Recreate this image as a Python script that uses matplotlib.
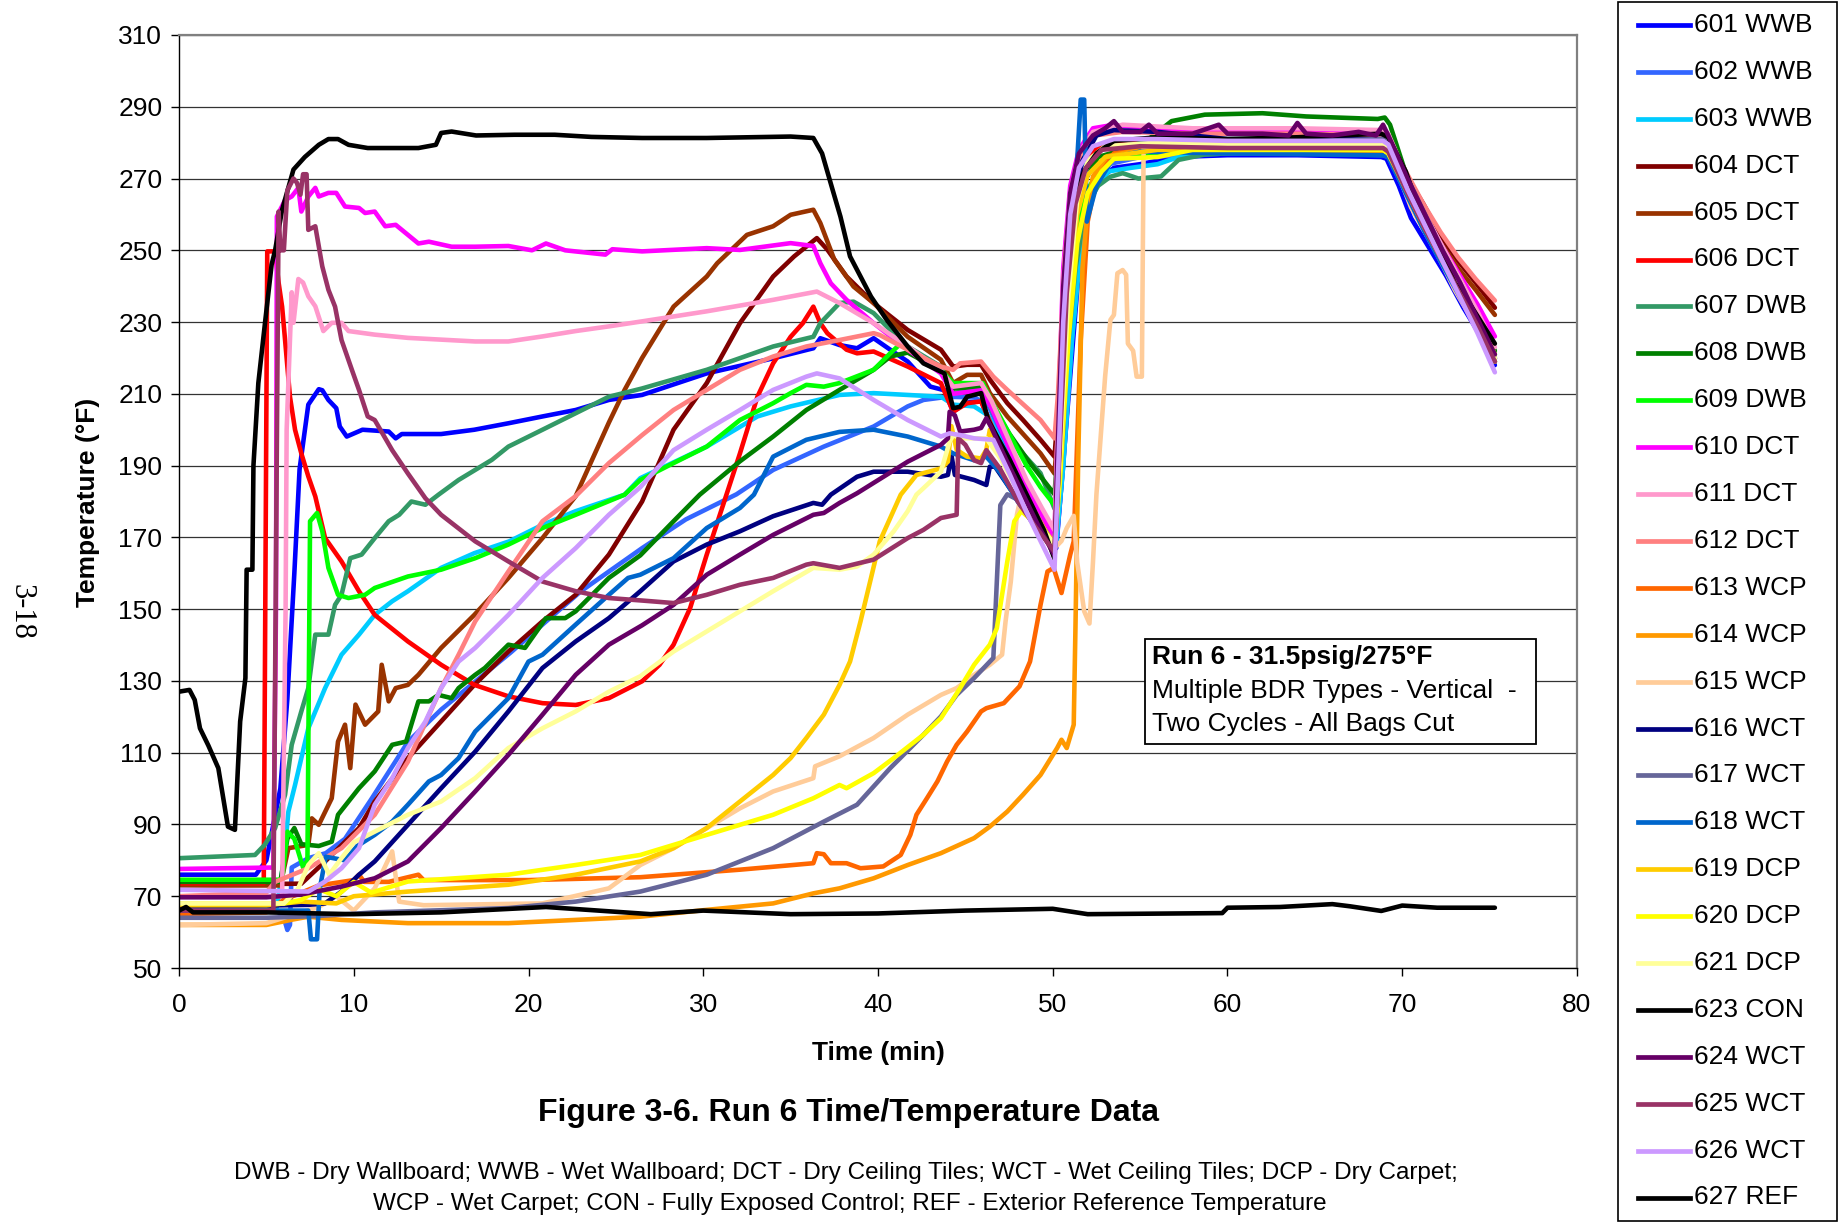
import matplotlib
matplotlib.use("Agg")
import matplotlib.pyplot as plt
from matplotlib.lines import Line2D
from matplotlib.patches import Rectangle

plt.rcParams['font.family'] = ['Liberation Sans', 'DejaVu Sans']

# Digitised thermocouple readings: (time in min, temperature in deg F)
s601 = [(0, 76), (4.4, 76), (5.0, 80), (5.8, 100), (6.2, 125), (6.6, 160), (6.9, 189), (7.4, 207), (8.0, 211.3),
        (8.2, 211), (8.55, 208.3), (9.0, 206), (9.2, 200.9), (9.6, 198.1), (10.5, 200), (12.0, 199.5), (12.4, 197.6),
        (12.75, 198.8), (15.0, 198.8), (16.9, 200), (18.85, 201.8), (20.8, 203.7), (22.7, 205.5), (24.6, 208.3),
        (26.5, 209.7), (30.2, 215.7), (34.0, 219.9), (36.3, 222.7), (36.7, 225.5), (37.8, 223.6), (38.8, 222.7),
        (39.75, 225.5), (40.7, 222.3), (41.7, 219), (43.0, 212), (43.8, 211), (44.3, 205), (45.0, 207.5), (45.9, 208),
        (46.5, 201), (47.5, 191), (48.5, 181), (49.4, 173), (50.2, 167), (50.5, 185), (51.0, 215), (51.5, 245),
        (52.0, 262), (52.7, 270), (53.5, 273), (55, 274), (57, 276), (60, 276.5), (64, 276.5), (68.8, 276),
        (69.1, 275.5), (69.8, 268), (70.5, 259), (71.5, 251), (72.5, 243), (73.5, 234), (74.5, 226), (75.3, 218)]
s602 = [(0, 66.5), (5.5, 66.5), (6.0, 64), (6.2, 60.6), (6.35, 62), (6.45, 78), (7.4, 80.6), (8.4, 82), (9.5, 86),
        (11.0, 97), (13.1, 113), (15.0, 122), (17.0, 130), (19.0, 138), (20.8, 145.7), (23.0, 155), (26.5, 167),
        (29.0, 175), (31.9, 182), (34.0, 188.8), (36.9, 195.3), (39.75, 200.9), (41.7, 206.5), (42.6, 208.3),
        (44.0, 209.2), (45.5, 209), (46.3, 207), (47.2, 197), (48.3, 185), (49.3, 175), (50.2, 168), (50.6, 190),
        (51.1, 225), (51.6, 255), (52.3, 268), (53.2, 274), (55, 276), (60, 277), (65, 277), (68.9, 276.5),
        (69.2, 276), (70.3, 265), (71.3, 255), (72.3, 246), (73.3, 237), (74.3, 228), (75.3, 219)]
s603 = [(0, 67), (5.6, 67), (6.0, 80), (6.26, 93.6), (6.64, 101), (7.4, 116.8), (8.36, 128), (9.3, 137.3),
        (10.3, 142.9), (11.2, 148.4), (12.2, 152.2), (13.1, 155), (15.0, 161.5), (16.9, 165.6), (18.9, 168.9),
        (20.8, 173.5), (22.7, 177.3), (25.5, 181.9), (26.4, 186.5), (30.2, 195.3), (33.1, 203.7), (35.0, 206.5),
        (37.8, 209.7), (39.75, 210.2), (43.6, 209.2), (44.3, 207), (45.5, 206.5), (46.3, 204), (47.2, 195),
        (48.3, 184), (49.3, 175), (50.2, 169), (50.6, 190), (51.1, 225), (51.7, 255), (52.4, 267), (53.2, 272),
        (54.5, 273), (56, 274), (57.5, 276.5), (60, 277.5), (65, 277.5), (68.9, 277), (69.2, 276.5), (70.3, 266),
        (71.3, 256), (72.3, 247), (73.3, 238), (74.3, 229), (75.3, 220)]
s604 = [(0, 73.2), (7.0, 73.5), (8.36, 79.7), (10.3, 89), (11.2, 96.4), (13.1, 108.5), (15.0, 118.7), (16.9, 128.9),
        (18.85, 138.2), (20.8, 146.6), (22.7, 154), (24.6, 165.2), (26.5, 180), (28.3, 200), (30.2, 213),
        (32.1, 229.7), (34.0, 242.7), (35.2, 248.3), (36.5, 253.4), (37.1, 250.2), (38.2, 242.7), (39.75, 235.3),
        (41.7, 227.8), (43.6, 222.3), (44.3, 217.6), (45.1, 218.1), (45.9, 218.1), (46.4, 214), (47.4, 207.4),
        (48.3, 202.7), (49.3, 197.2), (50.1, 192.5), (50.3, 205), (50.7, 245), (51.1, 265), (51.6, 274), (52.4, 279),
        (54, 280), (58, 280), (64, 280), (68.9, 280), (69.2, 279), (70.2, 271), (71.2, 263), (72.2, 254),
        (73.2, 247), (74.2, 241), (75.3, 234)]
s605 = [(0, 73), (5.8, 73), (6.26, 83.4), (7.4, 84.3), (7.6, 91.7), (8.0, 89.9), (8.74, 97.3), (9.1, 113.1),
        (9.5, 117.8), (9.8, 105.7), (10.1, 123.4), (10.65, 117.8), (11.4, 121.5), (11.6, 134.5), (12.0, 124.3),
        (12.4, 128), (13.1, 128.9), (13.7, 131.7), (15.0, 139.2), (16.9, 148.4), (18.85, 158.7), (20.8, 169.8),
        (22.7, 181.5), (24.6, 202), (25.5, 211.1), (26.5, 220), (28.3, 234.3), (30.2, 242.7), (30.8, 246.4),
        (32.5, 254.3), (34.0, 256.7), (35.0, 259.9), (36.3, 261.3), (36.7, 257.6), (37.5, 247.4), (38.6, 239.9),
        (39.75, 235.3), (41.7, 225.9), (43.6, 219.5), (44.3, 213), (45.1, 215.3), (45.9, 215.3), (46.4, 210.2),
        (47.4, 203.7), (49.3, 193.4), (50.1, 187.8), (50.3, 200), (50.7, 242), (51.1, 264), (51.6, 273),
        (52.4, 278.5), (54, 279.5), (58, 279), (64, 279.5), (68.9, 279.5), (69.2, 278.5), (70.2, 270), (71.2, 261),
        (72.2, 252), (73.2, 245), (74.2, 239), (75.3, 232)]
s606 = [(0, 73.6), (4.85, 73.6), (5.05, 249.7), (5.5, 249.7), (5.7, 241), (5.9, 234.3), (6.07, 225), (6.35, 209.2),
        (6.64, 200), (7.0, 193.4), (7.4, 187), (7.8, 181.4), (8.36, 169.8), (9.3, 163.3), (10.3, 155), (11.2, 148.4),
        (13.1, 141), (15.0, 134.5), (16.9, 128.9), (18.85, 125.7), (20.8, 123.8), (22.7, 123.3), (24.6, 125.2),
        (26.5, 129.9), (27.5, 134.5), (28.3, 140.1), (29.25, 150.3), (30.2, 165.2), (31.2, 180), (32.1, 193.4),
        (33.1, 209.2), (34.0, 218.5), (35.0, 225.9), (35.7, 229.7), (36.3, 234.3), (36.7, 229.7), (37.1, 226.9),
        (38.2, 222.3), (38.8, 221.3), (39.75, 221.8), (41.7, 217.6), (43.6, 213), (44.3, 205), (45.1, 207.4),
        (45.9, 207.9), (46.6, 200), (47.5, 191), (48.5, 182), (49.4, 175), (50.1, 171), (50.3, 190), (50.7, 240),
        (51.1, 263), (51.6, 272), (52.4, 278), (54, 280), (58, 280), (64, 280), (68.9, 280), (69.2, 279),
        (70.3, 268), (71.3, 258), (72.3, 249), (73.3, 240), (74.3, 230), (75.3, 220)]
s607 = [(0, 80.6), (4.35, 81.5), (4.9, 84.3), (5.5, 89), (6.07, 98.3), (6.45, 112.2), (7.0, 121.5), (7.4, 128),
        (7.8, 142.9), (8.55, 142.9), (8.93, 151.2), (9.3, 154), (9.8, 164.2), (10.45, 165.2), (11.2, 169.8),
        (12.0, 174.5), (12.6, 176.3), (13.3, 180), (14.1, 179.1), (14.85, 181.9), (16.0, 186), (17.9, 191.6),
        (18.85, 195.3), (20.8, 200), (22.7, 204.6), (24.6, 209.2), (26.5, 211.5), (30.2, 216.7), (34.0, 223.2),
        (36.3, 225.9), (36.7, 229.7), (37.8, 235.3), (38.6, 235.7), (39.75, 232.5), (40.7, 227.8), (41.7, 223.2),
        (43.6, 217.6), (44.3, 210.2), (45.5, 211.1), (46.05, 210.7), (46.6, 204.6), (47.4, 198.1), (49.3, 187.9),
        (50.1, 178), (50.3, 190), (50.8, 220), (51.3, 245), (51.9, 262), (52.6, 268), (53.3, 270.5), (54.0, 271.5),
        (54.9, 270), (56.2, 270.6), (57.2, 275.2), (58.7, 276.7), (62, 277.5), (68.9, 277.5), (69.2, 277),
        (70.3, 267), (71.3, 257), (72.3, 248), (73.3, 239), (74.3, 230), (75.3, 220)]
s608 = [(0, 74), (5.8, 74), (6.2, 86), (6.6, 89), (7.0, 84.5), (8.0, 84), (8.74, 85.2), (9.1, 92.7), (10.3, 100.1),
        (11.2, 104.8), (12.2, 112.2), (13.0, 113.1), (13.7, 124.3), (14.3, 124.3), (14.85, 126.1), (15.6, 125.2),
        (16.0, 128), (16.95, 131.7), (17.5, 133.6), (18.85, 140.1), (19.8, 139.2), (21.0, 147.5), (22.1, 147.5),
        (22.7, 149.4), (24.6, 158.7), (26.4, 165), (28.3, 174.5), (29.8, 181.9), (32.1, 191.2), (34.0, 198.1),
        (35.9, 205.5), (37.8, 211.1), (39.75, 216.7), (40.7, 220.4), (41.7, 221.5), (43.6, 216.5), (44.3, 211.5),
        (45.9, 212), (46.5, 207), (47.5, 199), (48.5, 192), (49.3, 187), (50.1, 182), (50.3, 195), (50.8, 230),
        (51.3, 258), (51.9, 270), (52.6, 276), (54, 278), (55.5, 281), (56.8, 286), (58.7, 287.8), (62, 288.2),
        (64.5, 287.3), (68.6, 286.6), (69.0, 287), (69.3, 285), (70.3, 270), (71.3, 260), (72.3, 251), (73.3, 242),
        (74.3, 232), (75.3, 222)]
s609 = [(0, 74.6), (5.9, 74.6), (6.2, 88), (6.6, 86), (7.1, 78), (7.35, 80), (7.5, 174.5), (7.9, 176.8),
        (8.2, 171.7), (8.55, 161.5), (9.1, 154), (9.7, 153.1), (10.65, 154), (11.2, 155.9), (13.1, 159.1),
        (15.0, 161), (16.95, 164.2), (18.85, 168), (20.8, 172.6), (22.7, 176.3), (25.5, 181.9), (26.4, 186),
        (28.3, 190.7), (30.2, 195.3), (32.1, 202.7), (34.0, 207.4), (35.0, 210.2), (35.9, 212.5), (36.9, 212),
        (37.8, 213), (39.75, 216.7), (40.7, 221.3), (41.3, 224), (42.0, 222), (43.6, 216.7), (44.3, 213),
        (46.0, 213), (46.5, 208), (47.5, 199), (48.5, 190), (49.3, 184), (50.1, 179), (50.3, 190), (50.8, 225),
        (51.3, 252), (51.9, 266), (52.6, 272), (53.5, 276), (55, 276.5), (56.5, 277), (58, 279), (62, 279.5),
        (68.9, 279), (69.2, 278.5), (70.3, 268), (71.3, 258), (72.3, 249), (73.3, 240), (74.3, 231), (75.3, 221)]
s610 = [(0, 77.6), (5.4, 78), (5.55, 150), (5.6, 259.4), (6.07, 264), (6.45, 265), (6.83, 267.4), (7.0, 260.8),
        (7.4, 265), (7.8, 267.4), (8.0, 265), (8.55, 266), (9.0, 266), (9.5, 262.2), (10.3, 261.8), (10.65, 260.4),
        (11.2, 260.8), (11.8, 256.7), (12.4, 257.1), (13.1, 254.3), (13.7, 251.9), (14.3, 252.4), (15.6, 251),
        (16.95, 251), (18.85, 251.2), (20.2, 250), (21.0, 251.9), (22.1, 250), (24.4, 248.8), (24.8, 250.3),
        (26.5, 249.7), (30.2, 250.6), (32.1, 250.1), (35.0, 252), (36.3, 251.2), (36.7, 246.4), (37.3, 240.8),
        (38.2, 236.2), (39.75, 229.7), (41.7, 222.3), (43.6, 215.7), (44.3, 210), (45.9, 211), (46.5, 206),
        (47.5, 195), (48.5, 184), (49.4, 176), (50.1, 170), (50.25, 195), (50.6, 245), (51.0, 268), (51.5, 278),
        (52.3, 284), (53.5, 285), (55, 284), (58, 283.5), (64, 283), (68.9, 283), (69.2, 282), (70.3, 270),
        (71.3, 260), (72.3, 251), (73.3, 243), (74.3, 235), (75.3, 226)]
s611 = [(0, 70), (5.9, 70), (6.1, 150), (6.16, 200), (6.45, 238.3), (6.55, 229.8), (6.83, 242), (7.1, 241),
        (7.4, 237.2), (7.8, 234.4), (8.26, 227.5), (8.74, 229.8), (9.3, 229.8), (9.7, 227.5), (11.2, 226.5),
        (13.1, 225.6), (16.95, 224.6), (18.85, 224.6), (20.8, 226), (22.7, 227.5), (24.6, 228.8), (26.5, 230.2),
        (30.2, 233), (34.0, 236.2), (36.5, 238.5), (37.8, 235.3), (39.75, 229.7), (41.7, 223.2), (43.6, 216.7),
        (44.3, 212), (45.9, 213), (46.5, 208), (47.5, 197), (48.5, 186), (49.4, 178), (50.1, 172), (50.25, 195),
        (50.6, 242), (51.0, 266), (51.5, 277), (52.3, 283), (54, 285), (58, 284), (64, 284), (68.9, 283.5),
        (69.2, 282.5), (70.3, 270), (71.3, 260), (72.3, 251), (73.3, 242), (74.3, 233), (75.3, 223)]
s612 = [(0, 70), (5.0, 71), (5.5, 74), (7.4, 77.8), (9.3, 83.4), (11.2, 92.7), (13.1, 107.5), (15.0, 128),
        (16.0, 137.3), (16.95, 146.6), (18.85, 160.5), (20.8, 174.5), (22.7, 181.5), (24.6, 190.7), (26.5, 198.5),
        (28.3, 205.5), (30.2, 211.1), (32.1, 216.7), (34.0, 220.4), (35.9, 223.2), (37.8, 225), (39.75, 226.9),
        (40.1, 226.4), (41.7, 222.3), (43.6, 217.6), (44.3, 216.7), (44.7, 218.5), (45.9, 219), (46.6, 214.8),
        (47.4, 211.1), (49.3, 202.7), (50.1, 197.6), (50.3, 210), (50.7, 248), (51.1, 268), (51.6, 277),
        (52.4, 282), (54, 283), (58, 282.5), (64, 282.5), (68.9, 282), (69.2, 281), (70.2, 272), (71.2, 263),
        (72.2, 255), (73.2, 248), (74.2, 242), (75.3, 236)]
s613 = [(0, 65), (5.0, 65.5), (6.0, 69), (8.0, 73), (10.0, 74.5), (10.3, 76), (10.6, 74), (12.0, 74), (13.7, 76),
        (14.0, 74.5), (20.0, 74.5), (26.4, 75.3), (28.3, 76), (32.1, 77.4), (36.3, 79.2), (36.5, 82), (36.9, 81.7),
        (37.3, 79.2), (38.2, 79.2), (39.0, 77.8), (40.3, 78.3), (41.3, 81.5), (41.85, 87.1), (42.2, 92.7),
        (42.8, 97.3), (43.4, 102), (43.95, 107.5), (44.5, 112.2), (45.1, 115.9), (45.9, 121.5), (46.2, 122.4),
        (47.2, 123.8), (48.1, 128.5), (48.7, 135.4), (49.3, 151.2), (49.7, 160.5), (50.05, 161.5), (50.5, 154.5),
        (51.0, 165.2), (51.2, 168.9), (51.6, 225), (52.0, 258), (52.5, 270), (53.5, 277), (55, 278.5), (60, 278),
        (68.9, 277.5), (69.2, 277), (70.3, 266), (71.3, 256), (72.3, 247), (73.3, 238), (74.3, 229), (75.3, 219)]
s614 = [(0, 62), (5.0, 62), (6.5, 63.5), (7.4, 64.3), (9.3, 63.4), (13.1, 62.5), (18.85, 62.5), (22.7, 63.4),
        (26.4, 64.3), (30.2, 66.2), (34.0, 68), (36.3, 70.8), (37.8, 72.2), (39.75, 75), (41.7, 78.7), (43.6, 82),
        (45.5, 86.2), (46.4, 89.4), (47.4, 93.6), (48.3, 98.3), (49.3, 103.8), (50.25, 111.3), (50.5, 113.6),
        (50.8, 111.3), (51.2, 117.8), (51.3, 145), (51.45, 190), (51.7, 245), (52.0, 262), (52.3, 270.6),
        (53.1, 276.2), (55, 278), (60, 278), (68.9, 277.5), (69.2, 277), (70.3, 266), (71.3, 256), (72.3, 247),
        (73.3, 238), (74.3, 229), (75.3, 219)]
s615 = [(0, 62), (5.0, 62.5), (6.0, 64), (8.0, 67), (9.0, 70), (10.0, 66), (11.2, 72.2), (12.2, 82.5), (12.6, 68.5),
        (14.0, 67.5), (20.8, 68), (24.6, 72.2), (26.4, 78.7), (28.3, 83.4), (30.2, 89), (32.1, 94.5), (34.0, 99.2),
        (36.3, 102.9), (36.4, 106.2), (37.8, 109), (39.75, 114.1), (41.7, 120.6), (43.6, 126.1), (44.5, 128),
        (45.5, 131.7), (46.4, 134.5), (47.1, 137.3), (47.3, 146.6), (47.6, 157.7), (47.95, 176.3), (48.2, 181.9),
        (49.0, 177), (50.1, 167), (50.5, 169), (50.8, 172.6), (51.2, 176), (51.4, 163), (51.8, 149.4), (52.1, 146),
        (52.3, 163), (52.5, 182), (53.0, 215), (53.3, 230.6), (53.5, 232), (53.7, 243.6), (54.0, 244.5),
        (54.2, 243.2), (54.3, 224), (54.6, 222), (54.8, 214.8), (55.1, 214.8), (55.2, 278.9), (57, 279),
        (60, 278.5), (65, 278.5), (69, 278), (69.3, 277), (70.5, 262), (72, 249), (73, 239), (74.2, 229), (75.3, 219)]
s616 = [(0, 67), (7.4, 67.6), (8.36, 68), (9.3, 71.3), (10.3, 76), (11.2, 79.7), (13.1, 89.9), (15.0, 100.1),
        (16.95, 110.3), (18.85, 121.5), (20.8, 133.6), (22.7, 141), (24.6, 147.5), (26.4, 155), (28.3, 163.3),
        (30.2, 168), (32.1, 171.7), (34.0, 175.9), (36.3, 179.6), (36.8, 179.1), (37.3, 181.9), (38.8, 186.9),
        (39.75, 188.3), (41.7, 188.3), (43.6, 186.9), (44.0, 187.4), (44.2, 192.9), (44.4, 187.4), (45.5, 186),
        (46.2, 184.6), (46.4, 189.7), (46.7, 189.7), (47.5, 184), (48.5, 177), (50.1, 166), (50.3, 185),
        (50.8, 235), (51.2, 262), (51.7, 275), (52.5, 282), (53.5, 283.5), (56, 283), (60, 281), (68.9, 281),
        (69.2, 280), (70.3, 268), (71.3, 258), (72.3, 249), (73.3, 240), (74.3, 231), (75.3, 220)]
s617 = [(0, 64), (5.0, 64), (8.0, 64.5), (11.2, 65.5), (18.85, 66.7), (22.7, 68.5), (26.4, 71.3), (30.2, 76),
        (34.0, 83.4), (36.9, 90.8), (38.8, 95.5), (40.7, 105.7), (42.6, 115), (43.6, 120.1), (44.5, 126.1),
        (45.5, 130.8), (46.6, 136.4), (47.0, 179), (47.4, 182), (48.2, 180), (49.2, 173), (50.1, 166), (50.4, 190),
        (50.9, 235), (51.4, 262), (52.0, 274), (53.0, 279), (56, 280), (62, 280), (68.8, 281), (69.1, 281.5),
        (69.3, 280), (70.3, 270), (71.3, 260), (72.3, 250), (73.3, 241), (74.3, 231), (75.3, 220)]
s618 = [(0, 66), (7.4, 66), (7.55, 58), (7.9, 58), (8.05, 72), (8.4, 81), (9.5, 80), (10.2, 84), (11.2, 87.1),
        (12.2, 90.8), (13.1, 95.5), (14.3, 102), (15.0, 103.8), (16.0, 108.5), (16.95, 115.9), (18.85, 125.2),
        (20.0, 135.4), (20.8, 137.3), (22.7, 145.7), (24.6, 154), (25.7, 158.7), (26.4, 159.6), (28.3, 164.2),
        (30.2, 172.6), (32.1, 178.2), (32.9, 181.9), (34.0, 192.5), (35.9, 197.2), (37.8, 199.4), (39.75, 200),
        (41.7, 198.1), (43.6, 195.3), (44.3, 193.4), (45.5, 191.5), (46.2, 192.5), (47.0, 188), (48.0, 180),
        (49.0, 173), (50.1, 167), (50.6, 200), (51.1, 250), (51.6, 292), (51.8, 292), (51.95, 258), (52.5, 268),
        (53.5, 276), (55, 277.5), (60, 277), (68.9, 276.5), (69.2, 276), (70.3, 265), (71.3, 255), (72.3, 246),
        (73.3, 237), (74.3, 228), (75.3, 219)]
s619 = [(0, 67.5), (5.0, 67.5), (7.0, 68.5), (9.0, 68), (10.0, 70), (13.1, 71.3), (18.85, 73.2), (22.7, 76),
        (26.4, 79.7), (28.3, 83.4), (30.2, 89), (32.1, 96.4), (34.0, 103.8), (35.0, 108.5), (35.9, 114.1),
        (36.9, 120.6), (37.8, 128.9), (38.4, 135.4), (39.0, 146.6), (39.6, 158.7), (40.1, 168.9), (40.7, 175.4),
        (41.3, 181.9), (42.2, 187.4), (43.6, 189.2), (44.0, 191.1), (44.2, 201), (44.5, 194.4), (45.1, 192.5),
        (45.9, 192), (46.2, 194.4), (46.4, 200), (47.0, 195), (48.0, 185), (49.0, 176), (50.1, 168), (50.4, 190),
        (50.9, 232), (51.4, 260), (52.0, 271), (53.0, 276), (56, 278), (62, 278), (68.9, 278), (69.2, 277),
        (70.3, 266), (71.3, 256), (72.3, 247), (73.3, 238), (74.3, 229), (75.3, 219)]
s620 = [(0, 68), (6.0, 68), (7.0, 69), (8.0, 72), (9.0, 70), (10.0, 74), (11.0, 71), (13.1, 74.1), (18.85, 76),
        (22.7, 78.7), (26.4, 81.5), (30.2, 87.1), (32.1, 89.9), (34.0, 92.7), (36.3, 97.3), (37.8, 101),
        (38.2, 100.1), (39.75, 104.3), (40.9, 108.5), (42.6, 115), (43.6, 119.6), (44.7, 128), (45.5, 134.5),
        (46.4, 140.1), (46.8, 144.7), (47.4, 163.3), (47.8, 174.5), (48.2, 177.3), (49.0, 174), (50.1, 167),
        (50.4, 185), (50.9, 225), (51.4, 252), (52.0, 266), (52.8, 272), (53.5, 275.5), (56, 276), (58, 278),
        (68.9, 278), (69.2, 277), (70.3, 267), (71.3, 258), (72.3, 249), (73.3, 240), (74.3, 231), (75.3, 221)]
s621 = [(0, 68), (6.0, 68), (6.8, 72), (7.4, 78.7), (8.0, 82), (8.6, 76), (9.2, 80), (10.0, 85), (11.2, 88),
        (13.1, 92.7), (15.0, 96.4), (16.95, 102.9), (18.85, 111.3), (20.8, 116.8), (22.7, 121.5), (24.6, 127),
        (26.4, 131.3), (28.3, 138.2), (30.2, 143.8), (32.1, 149.4), (34.0, 155), (36.3, 161.5), (37.8, 161),
        (38.8, 161.9), (39.75, 165.2), (40.9, 171.7), (41.7, 177.3), (42.2, 181.9), (42.6, 183.7), (43.6, 188.3),
        (44.1, 196.7), (44.3, 198.5), (44.7, 197.6), (46.2, 197.6), (47.0, 192), (48.0, 183), (49.0, 175),
        (50.1, 168), (50.4, 192), (50.9, 238), (51.4, 264), (52.0, 275), (53.0, 279), (56, 280), (62, 279.5),
        (68.9, 279.5), (69.2, 278.5), (70.3, 267), (71.3, 257), (72.3, 248), (73.3, 239), (74.3, 230), (75.3, 220)]
s623 = [(0, 127), (0.6, 127.5), (0.9, 124.7), (1.2, 116.8), (1.68, 112), (2.25, 105.7), (2.5, 98.3), (2.8, 89.4),
        (3.2, 88.5), (3.5, 118.7), (3.8, 130.8), (3.87, 161), (4.2, 161), (4.26, 190), (4.54, 213), (4.92, 229.7),
        (5.3, 246), (5.5, 250), (5.9, 261.3), (6.55, 272.5), (7.2, 276), (8.0, 279.4), (8.55, 281), (9.1, 281),
        (9.7, 279.4), (10.8, 278.5), (13.7, 278.5), (14.7, 279.4), (15.0, 282.7), (15.6, 283.1), (17.0, 282),
        (19.2, 282.2), (21.5, 282.2), (23.6, 281.6), (26.5, 281.3), (30.2, 281.3), (35.0, 281.7), (36.3, 281.3),
        (36.8, 277), (37.4, 266.9), (37.85, 259.4), (38.4, 248.3), (39.0, 242.7), (39.6, 237.1), (40.5, 230.6),
        (41.7, 223.2), (42.6, 218.5), (43.8, 215.7), (44.3, 206), (44.7, 206.4), (45.1, 209.2), (45.9, 210.2),
        (46.3, 202.7), (46.6, 200), (47.5, 192), (48.5, 182), (49.5, 172), (50.1, 164), (50.3, 185), (50.7, 240),
        (51.2, 265), (51.8, 272), (52.5, 277), (53.5, 280.5), (56, 281.5), (60, 281), (64, 281.5), (68.8, 282.5),
        (69.2, 281.5), (70.2, 272), (71.1, 259.5), (72.1, 251), (73.0, 241), (74.0, 234), (75.3, 224)]
s624 = [(0, 69.7), (5.0, 69.7), (7.0, 70.5), (9.3, 72.7), (11.2, 75), (13.1, 79.7), (15.0, 89), (16.95, 99.2),
        (18.85, 109.4), (20.8, 120.6), (22.7, 131.7), (24.6, 140.1), (26.5, 145.5), (28.3, 151.2), (30.2, 159.6),
        (32.1, 165.2), (34.0, 170.7), (36.3, 176.3), (36.9, 176.8), (37.8, 179.6), (38.8, 182.3), (41.7, 191.1),
        (43.6, 195.8), (44.0, 197.6), (44.1, 205), (44.4, 204), (44.7, 199.5), (45.5, 200), (45.9, 200.5),
        (46.2, 203.2), (46.5, 200.5), (47.3, 192), (48.3, 182), (49.2, 173), (50.1, 165), (50.25, 190),
        (50.6, 240), (51.0, 266), (51.5, 277), (52.3, 282), (53.0, 284), (53.5, 286), (54.0, 283), (55.0, 283),
        (55.5, 285), (56.0, 282.5), (58.0, 282.5), (59.5, 285), (60.0, 282.5), (62.0, 282.5), (63.5, 282),
        (64.0, 285.5), (64.5, 282.5), (66.0, 282), (67.5, 283), (68.5, 282), (68.9, 285), (69.2, 282), (70.3, 270),
        (71.3, 260), (72.3, 250), (73.3, 241), (74.3, 231), (75.3, 221)]
s625 = [(0, 66), (5.4, 66), (5.7, 260.8), (5.8, 250), (6.0, 250), (6.2, 266.7), (6.55, 270), (6.75, 268.8),
        (6.95, 265.5), (7.1, 271.2), (7.3, 271.2), (7.4, 255.7), (7.8, 256.7), (8.2, 245.5), (8.55, 239),
        (8.93, 234.3), (9.3, 225), (9.9, 216.6), (10.3, 211.1), (10.8, 203.7), (11.2, 202.7), (12.2, 194.3),
        (13.1, 187.8), (14.1, 180.9), (15.0, 176.3), (16.95, 168.9), (18.85, 163.3), (20.8, 157.7), (22.7, 155),
        (24.6, 153.1), (26.5, 152.4), (28.3, 151.7), (30.2, 154), (32.1, 156.8), (34.0, 158.7), (35.9, 162.4),
        (36.3, 162.8), (37.8, 161.5), (39.75, 163.8), (41.7, 169.8), (42.6, 172.1), (43.6, 175.4), (44.5, 176.3),
        (44.6, 197.6), (45.0, 195.8), (45.5, 191.5), (45.9, 190.7), (46.2, 194.3), (47.0, 189), (48.0, 180),
        (49.0, 173), (50.1, 166), (50.35, 190), (50.8, 238), (51.3, 263), (51.9, 273), (52.8, 278), (55, 279),
        (60, 278.5), (68.9, 278.5), (69.2, 277.5), (70.3, 266), (71.3, 256), (72.3, 247), (73.3, 238), (74.3, 229),
        (75.3, 219)]
s626 = [(0, 71.8), (7.4, 71.3), (8.36, 74.1), (9.3, 77.8), (10.3, 83.4), (11.2, 95.5), (12.2, 102.9), (13.1, 111.3),
        (14.1, 118.7), (15.0, 128), (16.0, 135.4), (16.95, 139.2), (18.85, 148.4), (20.8, 158.7), (22.7, 167),
        (24.6, 176.3), (26.4, 184), (28.3, 194.3), (30.2, 200), (32.1, 205.5), (34.0, 211.1), (35.9, 214.8),
        (36.5, 215.7), (37.8, 214.3), (39.75, 208.3), (41.7, 202.7), (43.6, 198.1), (44.1, 199), (44.7, 198.5),
        (45.5, 197.6), (46.6, 197.2), (47.5, 188), (48.5, 177), (50.1, 161), (50.25, 180), (50.6, 230),
        (51.0, 260), (51.5, 273), (52.3, 279), (53.5, 281), (56, 281), (60, 280.5), (64, 280.5), (68.9, 280.5),
        (69.2, 279.5), (70.3, 267), (71.3, 257), (72.3, 247), (73.3, 237), (74.3, 227), (75.3, 216)]
s627 = [(0, 66), (0.4, 67), (0.8, 65.5), (5.0, 65.5), (10.0, 65), (15.0, 65.5), (19.0, 66.5), (21.0, 67),
        (24.0, 66), (27.0, 65), (30.0, 66), (35.0, 65), (40.0, 65.2), (45.0, 66), (50.0, 66.5), (52.0, 65),
        (59.7, 65.3), (60.0, 66.8), (63.0, 67), (66.0, 67.8), (67.0, 67.2), (68.8, 65.9), (70.0, 67.4), (72.0, 66.8),
        (75.3, 66.8)]

labels = ["601 WWB", "602 WWB", "603 WWB", "604 DCT", "605 DCT", "606 DCT", "607 DWB", "608 DWB", "609 DWB",
          "610 DCT", "611 DCT", "612 DCT", "613 WCP", "614 WCP", "615 WCP", "616 WCT", "617 WCT", "618 WCT",
          "619 DCP", "620 DCP", "621 DCP", "623 CON", "624 WCT", "625 WCT", "626 WCT", "627 REF"]
colors = ["#0000FF", "#3366FF", "#00CCFF", "#800000", "#993300", "#FF0000", "#339966", "#008000", "#00FF00",
          "#FF00FF", "#FF99CC", "#FF8080", "#FF6600", "#FF9900", "#FFCC99", "#000080", "#666699", "#0066CC",
          "#FFCC00", "#FFFF00", "#FFFF99", "#000000", "#660066", "#993366", "#CC99FF", "#000000"]
data = [s601, s602, s603, s604, s605, s606, s607, s608, s609, s610, s611, s612, s613, s614, s615, s616, s617,
        s618, s619, s620, s621, s623, s624, s625, s626, s627]

W, H = 1845, 1225
fig = plt.figure(figsize=(W / 100, H / 100), dpi=100)
ax = fig.add_axes([179 / W, 1 - 968 / H, 1398 / W, 933 / H])

for lab, col, pts in zip(labels, colors, data):
    ax.plot([p[0] for p in pts], [p[1] for p in pts], color=col, lw=3.3, label=lab,
            solid_joinstyle='round', solid_capstyle='round')

ax.set_xlim(0, 80)
ax.set_ylim(50, 310)
ax.set_xticks(range(0, 81, 10))
ax.set_yticks(range(50, 311, 20))
ax.grid(axis='y', color='#333333', lw=0.9)
ax.set_axisbelow(True)
ax.tick_params(direction='out', length=6, width=1, labelsize=19)
ax.tick_params(axis='x', pad=12)
ax.tick_params(axis='y', pad=6)
for s in ['top', 'right']:
    ax.spines[s].set_color('#808080')
    ax.spines[s].set_linewidth(1.6)
for s in ['left', 'bottom']:
    ax.spines[s].set_color('black')
    ax.spines[s].set_linewidth(1.0)

# annotation box
ax.add_patch(Rectangle((0.691, 0.240), 0.280, 0.1126, transform=ax.transAxes,
                       facecolor='white', edgecolor='black', lw=1.3, zorder=5))
ax.text(0.696, 0.3333, "Run 6 - 31.5psig/275°F", transform=ax.transAxes, fontsize=19,
        fontweight='bold', va='center', zorder=6)
ax.text(0.696, 0.2969, "Multiple BDR Types - Vertical  -", transform=ax.transAxes, fontsize=19,
        va='center', zorder=6)
ax.text(0.696, 0.2615, "Two Cycles - All Bags Cut", transform=ax.transAxes, fontsize=19,
        va='center', zorder=6)

# axis labels and captions
fig.text(878 / W, 1 - 1053 / H, "Time (min)", ha='center', va='center', fontsize=19, fontweight='bold')
fig.text(88 / W, 1 - 502 / H, "Temperature (°F)", ha='center', va='center', fontsize=19,
         fontweight='bold', rotation=90)
fig.text(848 / W, 1 - 1113 / H, "Figure 3-6. Run 6 Time/Temperature Data", ha='center', va='center',
         fontsize=23, fontweight='bold')
fig.text(846 / W, 1 - 1173 / H,
         "DWB - Dry Wallboard; WWB - Wet Wallboard; DCT - Dry Ceiling Tiles; WCT - Wet Ceiling Tiles; DCP - Dry Carpet;",
         ha='center', va='center', fontsize=17.5)
fig.text(850 / W, 1 - 1204 / H,
         "WCP - Wet Carpet; CON - Fully Exposed Control; REF - Exterior Reference Temperature",
         ha='center', va='center', fontsize=17.5)
fig.text(21 / W, 1 - 612 / H, "3-18", ha='center', va='center', fontsize=22, rotation=-90,
         family='Liberation Serif')

# legend drawn as a tall box at the right edge
fig.add_artist(Rectangle((1618 / W, 1 - 1221 / H), (1837 - 1618) / W, (1221 - 2) / H,
                         transform=fig.transFigure, facecolor='white', edgecolor='black', lw=1.2))
for i, (lab, col) in enumerate(zip(labels, colors)):
    yy = 1 - (25 + i * 46.9) / H
    fig.add_artist(Line2D([1638 / W, 1690 / W], [yy, yy], color=col, lw=3.4, transform=fig.transFigure))
    fig.text(1694 / W, yy, lab, va='center', ha='left', fontsize=19)

fig.savefig("out.png", dpi=100)
